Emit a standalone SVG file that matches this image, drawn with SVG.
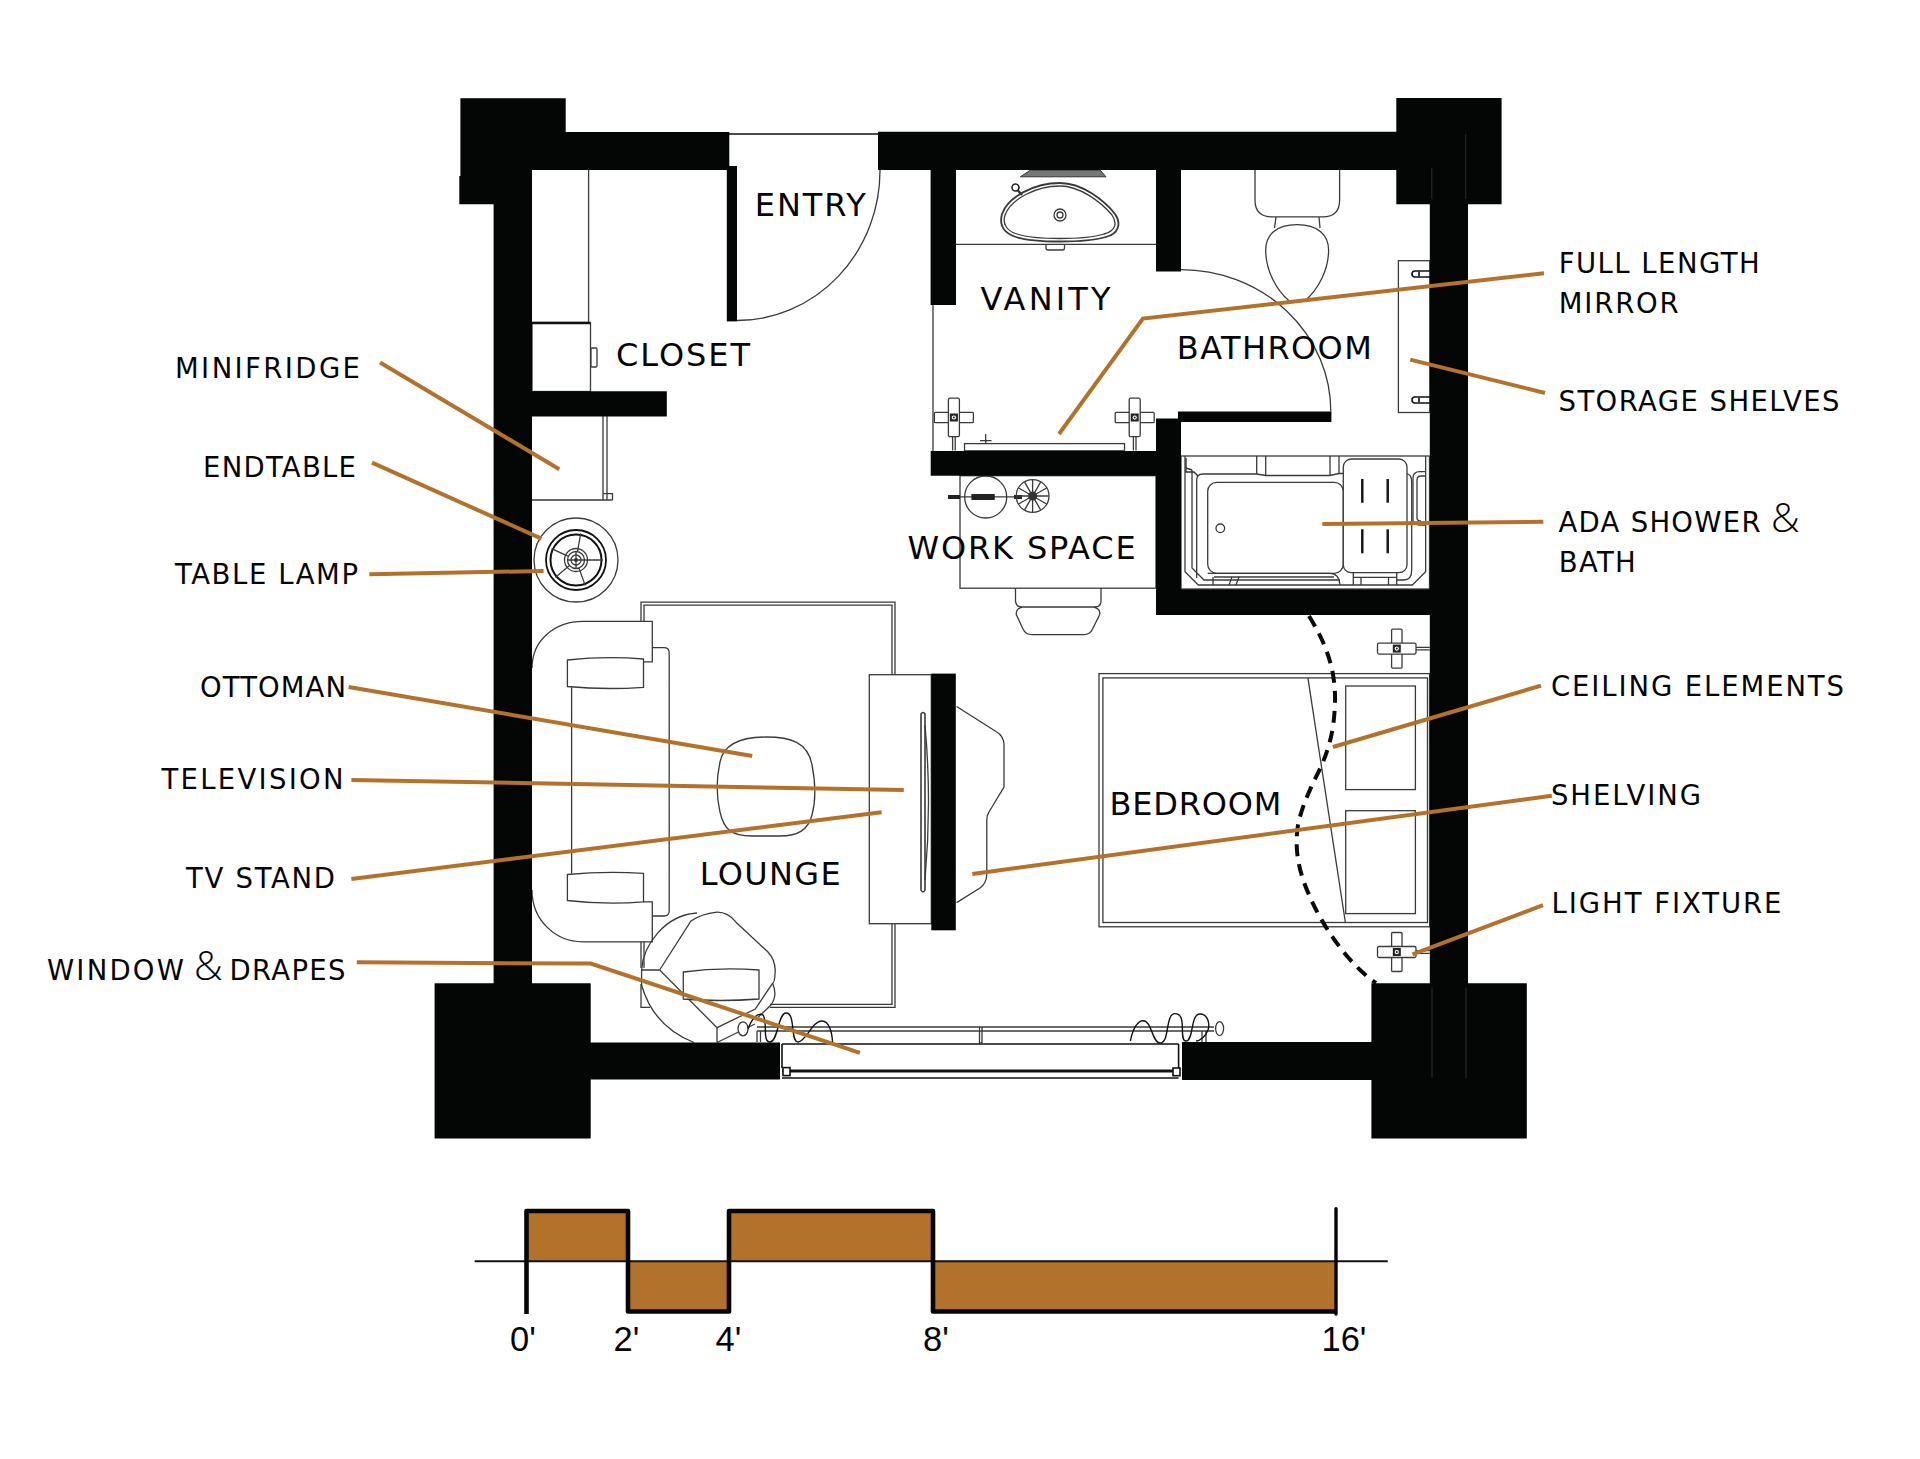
<svg xmlns="http://www.w3.org/2000/svg" xmlns:xlink="http://www.w3.org/1999/xlink" width="1920" height="1459" viewBox="0 0 1920 1459">
<style>
.w{fill:#040605}
.l{fill:none;stroke:#3a3a3a;stroke-width:1.3}
.f{fill:#fff;stroke:#3a3a3a;stroke-width:1.3}
.d{fill:none;stroke:#111;stroke-width:2.4}
.t{font-family:"DejaVu Sans",Verdana,sans-serif;fill:#050505}
.r{font-size:32px}
.c{font-size:27.5px}
.a{font-size:40px;font-family:"Open Sans","DejaVu Sans",sans-serif;font-weight:300}
.s{font-family:"Liberation Sans",Arial,sans-serif;font-size:34.5px;fill:#050505}
.ld{fill:none;stroke:#b3722c;stroke-width:4}
</style>
<defs>
<g id="fx">
<path class="l" d="M-1.3 0V33M1.3 0V33"/>
<rect class="f" x="-19.5" y="-5.2" width="39" height="10.4" rx="1"/>
<rect class="f" x="-5.5" y="-19.3" width="11" height="38.5" rx="1.5"/>
<rect x="-4" y="-4" width="8" height="8" fill="#222"/>
<circle r="2.6" fill="#fff" stroke="#222"/>
<circle r="1" fill="#222"/>
</g>
</defs>
<rect width="1920" height="1459" fill="#fff"/>

<g id="closet">
<path class="l" d="M588.6 170V322"/>
<rect class="f" x="532" y="322.5" width="58.5" height="69"/>
<path class="d" d="M532 323H590"/>
<rect class="f" x="591" y="348" width="6" height="19" rx="1"/>
<path class="l" d="M532 500H612.5M603 416V500M607 416V500M603 493.6H612.5V500"/>
</g>

<g id="end-table">
<circle class="l" cx="576" cy="560" r="42"/>
<circle cx="576" cy="560" r="30" fill="none" stroke="#111" stroke-width="1.8"/>
<circle cx="576" cy="560" r="25.5" fill="none" stroke="#111" stroke-width="2"/>
<circle class="l" cx="576" cy="560" r="11.5"/>
<circle class="l" cx="576" cy="560" r="8.5"/>
<circle class="l" cx="576" cy="560" r="5"/>
<circle cx="576" cy="560" r="2" fill="#222"/>
<path class="l" d="M577.6 551.1L580.7 533.4M585 560H603M579.1 568.5L585.2 585.4M569.1 565.8L555.3 577.4M567.8 556.2L551.5 548.6M576 551V569M567 560H585"/>
</g>

<g id="entry">
<path class="d" style="stroke-width:1.6" d="M729 134H878"/>
<path class="l" d="M737 320.5A143 150 0 0 0 880 170"/>
</g>

<g id="vanity">
<path class="l" d="M933 304V451M956 244.3H1156"/>
<path d="M1030.6 170H1100L1106 176.8H1020.4Z" fill="#777" stroke="#333"/>
<path class="f" style="stroke-width:1.8" d="M1060 183C1082 183 1104 200 1115 214C1122 224 1118 234 1106 237C1085 243 1035 243 1016 237C1004 233 999 225 1002 214C1008 197 1034 183 1060 183Z"/>
<path class="l" d="M1060 186C1080 186 1101 202 1112 215C1118 224 1115 231 1104 234C1085 240 1035 240 1017 234C1007 231 1002 224 1005 215C1011 199 1036 186 1060 186Z"/>
<circle class="l" cx="1060" cy="215" r="6"/><circle class="l" cx="1060" cy="215" r="3"/>
<path fill="none" stroke="#333" stroke-width="2.4" d="M1015.5 188L1022 195"/><circle cx="1015.5" cy="187.5" r="3.5" fill="#fff" stroke="#222" stroke-width="1.6"/>
<path class="l" d="M1046 244.5V248Q1046 250 1048 250H1062.5Q1064.5 250 1064.5 248V244.5"/>
<rect class="f" x="964.5" y="443.6" width="160" height="7.2"/>
<path class="l" d="M985.7 434V443.6M980 440.7H991.5"/>
<use xlink:href="#fx" href="#fx" x="953.9" y="417.5"/>
<use xlink:href="#fx" href="#fx" x="1134.7" y="417.5"/>
</g>

<g id="bathroom">
<path class="l" d="M1181 269.6A150 141.8 0 0 1 1330.8 411.4"/>
<path class="l" d="M1255 170V200Q1255 216.8 1272 216.8H1323Q1339.6 216.8 1339.6 200V170M1276 216.8L1274.5 228M1319 216.8L1320 228"/>
<path class="f" d="M1297 224.6C1318 224.6 1328.6 235 1328.6 250C1328.6 270 1318 290 1305 300.7H1289C1276 290 1265.7 270 1265.7 250C1265.7 235 1276 224.6 1297 224.6Z"/>
<rect class="f" x="1398.4" y="260.7" width="31.4" height="151.8"/>
<path class="d" style="stroke-width:1.6" d="M1430 271H1415Q1412 271 1412 274Q1412 277 1415 277H1430M1430 397H1415Q1412 397 1412 400Q1412 403 1415 403H1430"/>
<path class="l" style="stroke-width:2" d="M1419 271V277M1419 397V403"/>
</g>

<g id="bath">
<rect class="f" x="1181" y="456" width="248.5" height="133"/>
<path class="l" d="M1185 456V571.7L1198.3 585H1412.3L1425.7 571.7V456"/>
<path class="l" d="M1192 470V568L1204 580H1340M1196.7 578V480Q1196.7 474 1203 474H1256.7L1265.7 475.5H1330L1339 473.5H1343.3M1407 473.5Q1411.7 475 1411.7 482V570Q1411.7 580 1404 580H1396.7"/>
<path class="l" d="M1256.7 456V474M1265.7 456V475.5M1330 456V475.5M1339 456V473.5"/>
<rect class="f" x="1207.7" y="482.3" width="135.6" height="91" rx="9"/>
<path class="l" d="M1207.7 573.3H1330Q1339 573.3 1340 585M1214 577H1334M1213 577V585M1232 577L1229 585M1239 577L1236 585"/>
<rect class="f" x="1343.3" y="459" width="63.7" height="113.7" rx="8"/>
<path class="l" d="M1353.3 573V585M1396.7 573V585M1353.3 577.3H1396.7M1361 577.3V585M1388.5 577.3V585"/>
<path class="d" d="M1362.3 479V502.7M1387.7 479V502.7M1362.3 529.3V553.3M1387.7 529.3V553.3"/>
<circle class="l" cx="1220.3" cy="528.3" r="4.3"/>
<path class="l" d="M1425 471.7H1420Q1413 471.7 1413 478V520Q1413 525 1420 525H1425M1425 476H1421Q1417 476 1417 480V518Q1417 521 1421 521"/>
<path d="M1186 468V472H1194L1198 476M1186 458V468L1192 470" fill="none" stroke="#333" stroke-width="1.4"/>
</g>

<g id="work-space">
<rect class="f" x="960" y="475.7" width="196" height="112.5"/>
<circle class="l" cx="985.7" cy="497" r="21"/>
<path class="l" d="M948 496.8H1022"/>
<path d="M948 495H960V499H948ZM971.4 494H994.7V500H971.4ZM1014 495H1022V499H1014Z" fill="#222"/>
<circle class="l" cx="1032.6" cy="496" r="16.4"/>
<path class="l" d="M1016.6 496H1048.6M1018.7 488L1046.5 504M1024.6 482.1L1040.6 509.9M1032.6 480V512M1040.6 482.1L1024.6 509.9M1046.5 488L1018.7 504"/>
<circle cx="1032.6" cy="496" r="4.5" fill="#333"/>
<path class="l" d="M1015.5 588V601Q1016 607 1022 607H1095Q1101 607 1101 601V588"/>
<path class="l" d="M1022 607Q1015 609 1016.5 615L1023 629Q1025.5 634.6 1032 634.6H1084Q1090 634.6 1092.5 629L1099.5 615Q1101 609 1094 607"/>
</g>

<g id="lounge">
<path class="l" d="M641 621.4V602.2H895V674.7M644 621.4V605.2H892V674.7M895 923.7V1007.3H770M892 923.7V1004.3H770M641 941.8V968M644 941.8V968M641 984V1007.3H650"/>
<path class="l" d="M532 668C532 640 555 621.4 583 621.4H652.3V661.8H643.5M532 890C532 920 555 941.8 583 941.8H652.3V901.9H643.5"/>
<path class="l" d="M571.6 687.3V873.4M652.3 647.7H664Q669.2 647.7 669.2 653V911Q669.2 916 664 916H652.3"/>
<path class="f" d="M567.4 660Q605 656 643.5 659V687.3Q605 690 567.4 686.5Z"/>
<path class="f" d="M567.4 874.5Q605 871 643.5 873.4V901.9Q605 905 567.4 900.5Z"/>
<path class="f" d="M766 737C790 737 808 742 812 765C816 785 816 800 812 815C808 830 798 836 780 836H752C732 836 724 830 720 812C716 795 716 780 720 762C724 742 745 737 766 737Z"/>
<rect class="f" x="869.3" y="674.7" width="62" height="249"/>
<path class="f" d="M921 714Q923 711 925 714V890Q923 894 921 890Z" style="stroke-width:1.6"/>
<path class="l" d="M925 725Q932 802 925 880"/>
<path class="l" d="M956.6 706.5L996 731.5Q1004 736 1004 745V787L989 812Q986.8 815 986.8 820V874Q986.8 883 980 888L956.6 902.6"/>
</g>

<g id="armchair">
<path class="f" d="M659.6 970L691 921Q701 914 717 912.2Q728 912 736 922.2L768 952Q775 960 775.2 970Q775 983 772.5 983.3L755.3 1009L717 1027.7Z"/>
<path class="l" d="M659.6 970H641.6M641.6 970C643 945 665 915 697 913M641.6 970V985C650 1015 670 1033 694 1042.5M717 1027.7V1042.5M717 1042.5L755 1024M772.5 983.3Q778 995 771 1005L755.3 1020"/>
<path class="f" d="M683.3 972Q720 967 759 970V999Q720 1002 683.3 999Z"/>
</g>

<g id="bedroom">
<rect class="l" x="1099" y="673.6" width="330.6" height="253.2"/>
<rect class="l" x="1102.9" y="677.9" width="324.6" height="244.6"/>
<path class="l" d="M1307.9 677.9L1345.4 922.5"/>
<rect class="l" x="1345.7" y="686" width="69.7" height="103.6"/>
<rect class="l" x="1345.7" y="810.7" width="69.7" height="102.9"/>
<use xlink:href="#fx" href="#fx" transform="translate(1396.8 648.6) rotate(-90)"/>
<use xlink:href="#fx" href="#fx" transform="translate(1396.8 952) rotate(-90)"/>
<path fill="none" stroke="#0a0a0a" stroke-width="4" stroke-dasharray="12 8" d="M1309 616C1325 642 1336 668 1335 703C1334 730 1330 745 1321.4 766C1312 785 1302 805 1298 825C1294 850 1299 873 1310 897C1322 925 1348 964 1376 983"/>
</g>

<g id="window">
<path class="d" style="stroke-width:1.6" d="M782 1044H1178.6M782 1078H1178.6M782 1044V1068M1178.6 1044V1068"/>
<path d="M782 1071H1178" stroke="#111" stroke-width="3" fill="none"/>
<rect x="783" y="1067.6" width="7" height="8" fill="#fff" stroke="#111" stroke-width="1.6"/>
<rect x="1173" y="1068" width="7" height="7.7" fill="#fff" stroke="#111" stroke-width="1.6"/>
<path class="l" d="M757 1027H1214M757 1031H1214M979.5 1027V1043H982V1027M757 1031V1042M760.5 1031V1042M1202 1031V1042M1206 1031V1042"/>
<ellipse class="f" cx="743" cy="1028.8" rx="5" ry="7"/>
<ellipse class="f" cx="1219.6" cy="1028.6" rx="4" ry="7"/>
<path fill="none" stroke="#111" stroke-width="1.4" d="M748 1029C752 1018 758 1012 763 1015C768 1022 762 1042 770 1042C778 1042 778 1013 786 1013C796 1013 790 1042 798 1042C806 1042 812 1021 822 1021C829 1021 832 1032 832.6 1042.5"/>
<path fill="none" stroke="#111" stroke-width="1.4" d="M1130.4 1041C1133 1028 1138 1020.7 1143 1020.7C1152 1020.7 1152 1043 1160 1043C1170 1043 1165 1013.6 1175 1013.6C1188 1013.6 1178 1041 1186 1041C1194 1041 1190 1014 1200 1014C1208 1014 1210 1024 1208 1030C1206 1036 1200 1041 1196 1041"/>
</g>

<g id="walls" class="w">
<path d="M460.4 98.3H565.7V132H729.3V170H532V391.3H666.8V416.4H532V983.3H590.7V1042.5H780V1079.5H590.7V1138.6H434.6V983.3H493.6V204.3H459.3V176H460.4Z"/>
<rect x="726.8" y="166" width="10.2" height="155.4"/>
<path d="M878 131.8H1396.3V97.9H1501.6V204.3H1468V983.2H1526.8V1138.6H1371.4V1080H1182V1042H1371.4V983.2H1429.8V615H1156V475.7H930.7V451H1156V418.6H1178V411.4H1331.4V422H1181V589.3H1429.8V204.3H1396.3V170H1181V271.4H1156V170H956V305H930.6V170H878Z"/>
<rect x="931.3" y="673.6" width="24.5" height="256.7"/>
<path stroke="#2c2c2c" stroke-width="1" d="M1431.8 168V199M1465.7 134V199M1432 987.5V1078M1466 987.5V1078"/>
</g>

<g id="room-labels" class="t r">
<text x="754.8" y="215.7" textLength="111">ENTRY</text>
<text x="616" y="366" textLength="134">CLOSET</text>
<text x="980.6" y="310.4" textLength="130">VANITY</text>
<text x="1176.8" y="358.6" textLength="195">BATHROOM</text>
<text x="907.6" y="558.6" textLength="228">WORK SPACE</text>
<text x="699.7" y="884.5" textLength="141">LOUNGE</text>
<text x="1109.4" y="815" textLength="172">BEDROOM</text>
</g>

<g id="connectors" class="ld">
<path d="M380 362.5L559.3 469.2"/>
<path d="M372 462.7L541.4 538.6"/>
<path d="M369.3 574.2L543.6 571"/>
<path d="M348.6 687L752.2 756"/>
<path d="M351.4 780L903.8 790"/>
<path d="M351.4 879L881.6 812.3"/>
<path d="M356.8 962.3L590.7 963.6L860 1052.8"/>
<path d="M1544 273.3L1142.9 318.6L1059 434"/>
<path d="M1410.2 359.6L1545 393"/>
<path d="M1322.4 524L1543.3 521.7"/>
<path d="M1332.9 747L1541 685.7"/>
<path d="M972.3 874L1551.8 795.7"/>
<path d="M1412.5 954.3L1543 905.2"/>
</g>

<g id="callouts" class="t c">
<text x="175" y="378" textLength="185">MINIFRIDGE</text>
<text x="203" y="476.6" textLength="153">ENDTABLE</text>
<text x="175" y="584" textLength="183">TABLE LAMP</text>
<text x="200" y="696.5" textLength="146">OTTOMAN</text>
<text x="161.5" y="789" textLength="182">TELEVISION</text>
<text x="186" y="887.7" textLength="149">TV STAND</text>
<text x="46.9" y="980" textLength="137">WINDOW</text>
<text x="194" y="980" class="a">&amp;</text>
<text x="229.5" y="980" textLength="116">DRAPES</text>
<text x="1558.7" y="272.7" textLength="201">FULL LENGTH</text>
<text x="1558.7" y="313.3" textLength="120">MIRROR</text>
<text x="1558.5" y="410.7" textLength="281">STORAGE SHELVES</text>
<text x="1558.5" y="531.7" textLength="202">ADA SHOWER</text>
<text x="1771" y="531.7" class="a">&amp;</text>
<text x="1558.7" y="572" textLength="77">BATH</text>
<text x="1551" y="696" textLength="293">CEILING ELEMENTS</text>
<text x="1551" y="804.7" textLength="150">SHELVING</text>
<text x="1551.5" y="913.3" textLength="230">LIGHT FIXTURE</text>
</g>

<g id="scale-bar">
<path fill="#b3722c" d="M526.5 1211H628V1261H526.5ZM628 1261H729V1311.5H628ZM729 1211H933V1261H729ZM933 1261H1336V1311.5H933Z"/>
<path d="M474.7 1261.3H1387.7" stroke="#111" stroke-width="2" fill="none"/>
<path d="M526.5 1314V1211H628V1311.5H729V1211H933V1311.5H1336" fill="none" stroke="#060606" stroke-width="4.6" stroke-linejoin="round"/>
<path d="M1336 1208.7V1314" fill="none" stroke="#060606" stroke-width="3.4" stroke-linecap="round"/>
<text class="s" x="510" y="1351.3">0'</text>
<text class="s" x="613.5" y="1351.3">2'</text>
<text class="s" x="715.5" y="1351.3">4'</text>
<text class="s" x="923" y="1351.3">8'</text>
<text class="s" x="1321.5" y="1351.3">16'</text>
</g>
</svg>
